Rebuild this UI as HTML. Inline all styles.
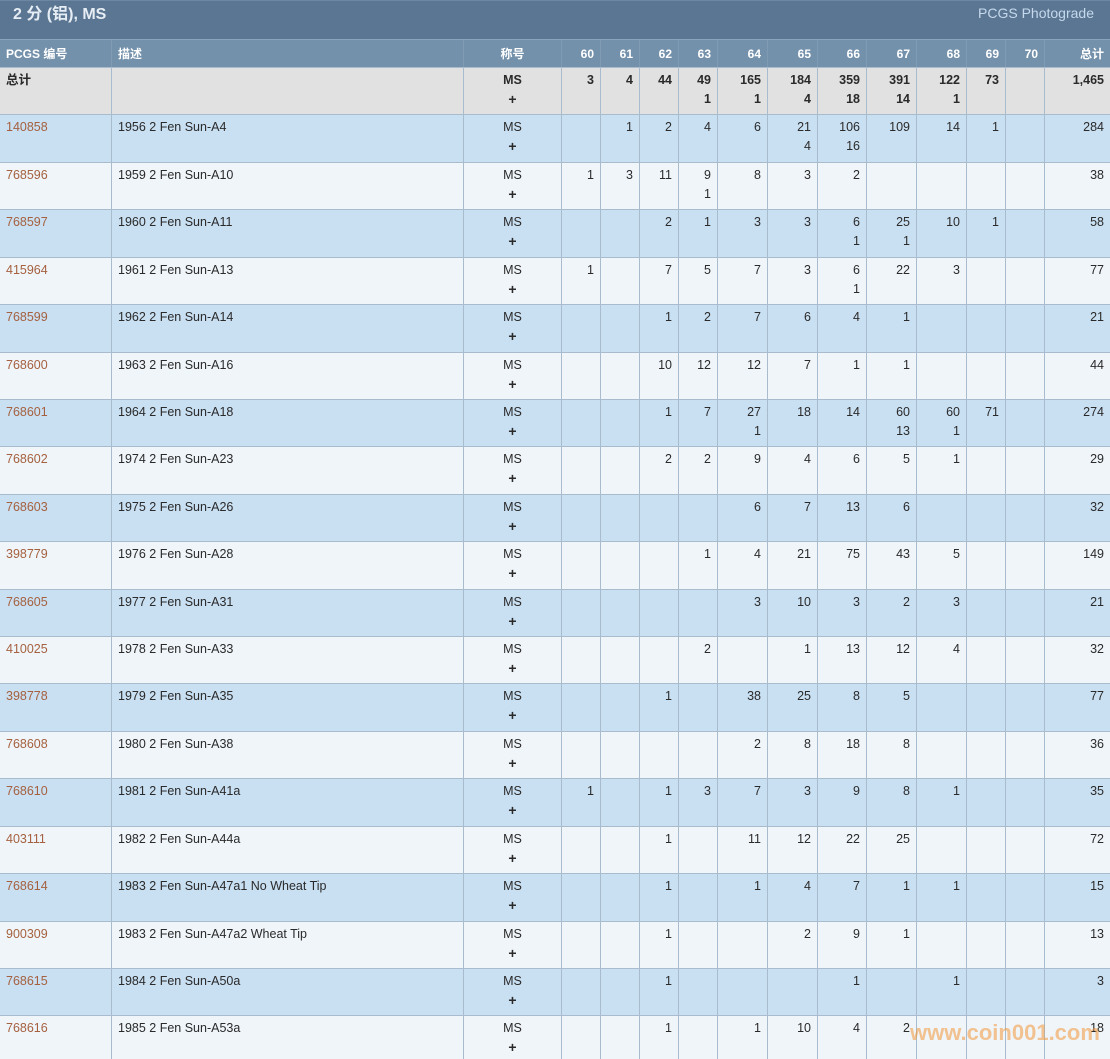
<!DOCTYPE html>
<html><head><meta charset="utf-8">
<style>
*{margin:0;padding:0;box-sizing:border-box}
html,body{width:1110px;height:1059px;overflow:hidden;background:#f0f5fa}
body{position:relative;font-family:"Liberation Sans","Noto Sans CJK SC",sans-serif;font-size:12.5px;color:#2a2a2a}
.title{position:absolute;left:0;top:0;width:1110px;height:39px;background:#5b7693;border-top:1px solid #6d87a2}
.title .t{position:absolute;left:13px;top:3px;font-size:16px;font-weight:bold;color:#e6edf4;line-height:22px}
.title .p{position:absolute;right:16px;top:3px;font-size:14px;color:#c6d9ec;line-height:18px}
.r{position:absolute;left:0;width:1110px;display:flex;border-top:1px solid #a9bccd}
.r.h{background:#7491ab;border-top:1px solid #8aa4bc;color:#fff;font-weight:bold;font-size:12px}
.r.tot{background:#e1e1e2;font-weight:bold}
.r.b{background:#c9dff2}
.r.l{background:#f0f5fa}
.c{height:100%;border-left:1px solid #a9bccd;padding:3px 6px 0 6px;line-height:19px;white-space:nowrap;overflow:hidden}
.h .c{border-left:1px solid #7f9bb4;line-height:26px;padding-top:1px}
.c:first-child{border-left:none}
.n{text-align:right}
.m{text-align:center}
.m b{font-size:14px}
a{color:#a5613f;text-decoration:none}
.w0{width:111px}.w1{width:352px}.w2{width:98px}
.w3,.w4,.w5,.w6,.w12,.w13{width:39px}
.w7,.w8,.w10,.w11{width:50px}.w9{width:49px}.w14{width:66px}
.wm{position:absolute;left:910px;top:1022px;font-size:22px;font-weight:bold;line-height:22px;color:rgba(243,150,55,0.55);font-family:"Liberation Sans",sans-serif}
</style></head><body>
<div class="title"><div class="t">2 分 (铝), MS</div><div class="p">PCGS Photograde</div></div>

<div class="r h" style="top:39px;height:28px">
<div class="c w0">PCGS 编号</div><div class="c w1">描述</div><div class="c w2 m">称号</div>
<div class="c w3 n">60</div><div class="c w4 n">61</div><div class="c w5 n">62</div><div class="c w6 n">63</div><div class="c w7 n">64</div><div class="c w8 n">65</div><div class="c w9 n">66</div><div class="c w10 n">67</div><div class="c w11 n">68</div><div class="c w12 n">69</div><div class="c w13 n">70</div><div class="c w14 n">总计</div>
</div>

<div class="r tot" style="top:67px;height:47px">
<div class="c w0">总计</div><div class="c w1"></div><div class="c w2 m">MS<br><b>+</b></div>
<div class="c w3 n">3</div><div class="c w4 n">4</div><div class="c w5 n">44</div><div class="c w6 n">49<br>1</div><div class="c w7 n">165<br>1</div><div class="c w8 n">184<br>4</div><div class="c w9 n">359<br>18</div><div class="c w10 n">391<br>14</div><div class="c w11 n">122<br>1</div><div class="c w12 n">73</div><div class="c w13 n"></div><div class="c w14 n">1,465</div>
</div>

<div class="r b" style="top:114px;height:48px">
<div class="c w0"><a>140858</a></div><div class="c w1">1956 2 Fen Sun-A4</div><div class="c w2 m">MS<br><b>+</b></div>
<div class="c w3 n"></div><div class="c w4 n">1</div><div class="c w5 n">2</div><div class="c w6 n">4</div><div class="c w7 n">6</div><div class="c w8 n">21<br>4</div><div class="c w9 n">106<br>16</div><div class="c w10 n">109</div><div class="c w11 n">14</div><div class="c w12 n">1</div><div class="c w13 n"></div><div class="c w14 n">284</div>
</div>

<div class="r l" style="top:162px;height:47px">
<div class="c w0"><a>768596</a></div><div class="c w1">1959 2 Fen Sun-A10</div><div class="c w2 m">MS<br><b>+</b></div>
<div class="c w3 n">1</div><div class="c w4 n">3</div><div class="c w5 n">11</div><div class="c w6 n">9<br>1</div><div class="c w7 n">8</div><div class="c w8 n">3</div><div class="c w9 n">2</div><div class="c w10 n"></div><div class="c w11 n"></div><div class="c w12 n"></div><div class="c w13 n"></div><div class="c w14 n">38</div>
</div>

<div class="r b" style="top:209px;height:48px">
<div class="c w0"><a>768597</a></div><div class="c w1">1960 2 Fen Sun-A11</div><div class="c w2 m">MS<br><b>+</b></div>
<div class="c w3 n"></div><div class="c w4 n"></div><div class="c w5 n">2</div><div class="c w6 n">1</div><div class="c w7 n">3</div><div class="c w8 n">3</div><div class="c w9 n">6<br>1</div><div class="c w10 n">25<br>1</div><div class="c w11 n">10</div><div class="c w12 n">1</div><div class="c w13 n"></div><div class="c w14 n">58</div>
</div>

<div class="r l" style="top:257px;height:47px">
<div class="c w0"><a>415964</a></div><div class="c w1">1961 2 Fen Sun-A13</div><div class="c w2 m">MS<br><b>+</b></div>
<div class="c w3 n">1</div><div class="c w4 n"></div><div class="c w5 n">7</div><div class="c w6 n">5</div><div class="c w7 n">7</div><div class="c w8 n">3</div><div class="c w9 n">6<br>1</div><div class="c w10 n">22</div><div class="c w11 n">3</div><div class="c w12 n"></div><div class="c w13 n"></div><div class="c w14 n">77</div>
</div>

<div class="r b" style="top:304px;height:48px">
<div class="c w0"><a>768599</a></div><div class="c w1">1962 2 Fen Sun-A14</div><div class="c w2 m">MS<br><b>+</b></div>
<div class="c w3 n"></div><div class="c w4 n"></div><div class="c w5 n">1</div><div class="c w6 n">2</div><div class="c w7 n">7</div><div class="c w8 n">6</div><div class="c w9 n">4</div><div class="c w10 n">1</div><div class="c w11 n"></div><div class="c w12 n"></div><div class="c w13 n"></div><div class="c w14 n">21</div>
</div>

<div class="r l" style="top:352px;height:47px">
<div class="c w0"><a>768600</a></div><div class="c w1">1963 2 Fen Sun-A16</div><div class="c w2 m">MS<br><b>+</b></div>
<div class="c w3 n"></div><div class="c w4 n"></div><div class="c w5 n">10</div><div class="c w6 n">12</div><div class="c w7 n">12</div><div class="c w8 n">7</div><div class="c w9 n">1</div><div class="c w10 n">1</div><div class="c w11 n"></div><div class="c w12 n"></div><div class="c w13 n"></div><div class="c w14 n">44</div>
</div>

<div class="r b" style="top:399px;height:47px">
<div class="c w0"><a>768601</a></div><div class="c w1">1964 2 Fen Sun-A18</div><div class="c w2 m">MS<br><b>+</b></div>
<div class="c w3 n"></div><div class="c w4 n"></div><div class="c w5 n">1</div><div class="c w6 n">7</div><div class="c w7 n">27<br>1</div><div class="c w8 n">18</div><div class="c w9 n">14</div><div class="c w10 n">60<br>13</div><div class="c w11 n">60<br>1</div><div class="c w12 n">71</div><div class="c w13 n"></div><div class="c w14 n">274</div>
</div>

<div class="r l" style="top:446px;height:48px">
<div class="c w0"><a>768602</a></div><div class="c w1">1974 2 Fen Sun-A23</div><div class="c w2 m">MS<br><b>+</b></div>
<div class="c w3 n"></div><div class="c w4 n"></div><div class="c w5 n">2</div><div class="c w6 n">2</div><div class="c w7 n">9</div><div class="c w8 n">4</div><div class="c w9 n">6</div><div class="c w10 n">5</div><div class="c w11 n">1</div><div class="c w12 n"></div><div class="c w13 n"></div><div class="c w14 n">29</div>
</div>

<div class="r b" style="top:494px;height:47px">
<div class="c w0"><a>768603</a></div><div class="c w1">1975 2 Fen Sun-A26</div><div class="c w2 m">MS<br><b>+</b></div>
<div class="c w3 n"></div><div class="c w4 n"></div><div class="c w5 n"></div><div class="c w6 n"></div><div class="c w7 n">6</div><div class="c w8 n">7</div><div class="c w9 n">13</div><div class="c w10 n">6</div><div class="c w11 n"></div><div class="c w12 n"></div><div class="c w13 n"></div><div class="c w14 n">32</div>
</div>

<div class="r l" style="top:541px;height:48px">
<div class="c w0"><a>398779</a></div><div class="c w1">1976 2 Fen Sun-A28</div><div class="c w2 m">MS<br><b>+</b></div>
<div class="c w3 n"></div><div class="c w4 n"></div><div class="c w5 n"></div><div class="c w6 n">1</div><div class="c w7 n">4</div><div class="c w8 n">21</div><div class="c w9 n">75</div><div class="c w10 n">43</div><div class="c w11 n">5</div><div class="c w12 n"></div><div class="c w13 n"></div><div class="c w14 n">149</div>
</div>

<div class="r b" style="top:589px;height:47px">
<div class="c w0"><a>768605</a></div><div class="c w1">1977 2 Fen Sun-A31</div><div class="c w2 m">MS<br><b>+</b></div>
<div class="c w3 n"></div><div class="c w4 n"></div><div class="c w5 n"></div><div class="c w6 n"></div><div class="c w7 n">3</div><div class="c w8 n">10</div><div class="c w9 n">3</div><div class="c w10 n">2</div><div class="c w11 n">3</div><div class="c w12 n"></div><div class="c w13 n"></div><div class="c w14 n">21</div>
</div>

<div class="r l" style="top:636px;height:47px">
<div class="c w0"><a>410025</a></div><div class="c w1">1978 2 Fen Sun-A33</div><div class="c w2 m">MS<br><b>+</b></div>
<div class="c w3 n"></div><div class="c w4 n"></div><div class="c w5 n"></div><div class="c w6 n">2</div><div class="c w7 n"></div><div class="c w8 n">1</div><div class="c w9 n">13</div><div class="c w10 n">12</div><div class="c w11 n">4</div><div class="c w12 n"></div><div class="c w13 n"></div><div class="c w14 n">32</div>
</div>

<div class="r b" style="top:683px;height:48px">
<div class="c w0"><a>398778</a></div><div class="c w1">1979 2 Fen Sun-A35</div><div class="c w2 m">MS<br><b>+</b></div>
<div class="c w3 n"></div><div class="c w4 n"></div><div class="c w5 n">1</div><div class="c w6 n"></div><div class="c w7 n">38</div><div class="c w8 n">25</div><div class="c w9 n">8</div><div class="c w10 n">5</div><div class="c w11 n"></div><div class="c w12 n"></div><div class="c w13 n"></div><div class="c w14 n">77</div>
</div>

<div class="r l" style="top:731px;height:47px">
<div class="c w0"><a>768608</a></div><div class="c w1">1980 2 Fen Sun-A38</div><div class="c w2 m">MS<br><b>+</b></div>
<div class="c w3 n"></div><div class="c w4 n"></div><div class="c w5 n"></div><div class="c w6 n"></div><div class="c w7 n">2</div><div class="c w8 n">8</div><div class="c w9 n">18</div><div class="c w10 n">8</div><div class="c w11 n"></div><div class="c w12 n"></div><div class="c w13 n"></div><div class="c w14 n">36</div>
</div>

<div class="r b" style="top:778px;height:48px">
<div class="c w0"><a>768610</a></div><div class="c w1">1981 2 Fen Sun-A41a</div><div class="c w2 m">MS<br><b>+</b></div>
<div class="c w3 n">1</div><div class="c w4 n"></div><div class="c w5 n">1</div><div class="c w6 n">3</div><div class="c w7 n">7</div><div class="c w8 n">3</div><div class="c w9 n">9</div><div class="c w10 n">8</div><div class="c w11 n">1</div><div class="c w12 n"></div><div class="c w13 n"></div><div class="c w14 n">35</div>
</div>

<div class="r l" style="top:826px;height:47px">
<div class="c w0"><a>403111</a></div><div class="c w1">1982 2 Fen Sun-A44a</div><div class="c w2 m">MS<br><b>+</b></div>
<div class="c w3 n"></div><div class="c w4 n"></div><div class="c w5 n">1</div><div class="c w6 n"></div><div class="c w7 n">11</div><div class="c w8 n">12</div><div class="c w9 n">22</div><div class="c w10 n">25</div><div class="c w11 n"></div><div class="c w12 n"></div><div class="c w13 n"></div><div class="c w14 n">72</div>
</div>

<div class="r b" style="top:873px;height:48px">
<div class="c w0"><a>768614</a></div><div class="c w1">1983 2 Fen Sun-A47a1 No Wheat Tip</div><div class="c w2 m">MS<br><b>+</b></div>
<div class="c w3 n"></div><div class="c w4 n"></div><div class="c w5 n">1</div><div class="c w6 n"></div><div class="c w7 n">1</div><div class="c w8 n">4</div><div class="c w9 n">7</div><div class="c w10 n">1</div><div class="c w11 n">1</div><div class="c w12 n"></div><div class="c w13 n"></div><div class="c w14 n">15</div>
</div>

<div class="r l" style="top:921px;height:47px">
<div class="c w0"><a>900309</a></div><div class="c w1">1983 2 Fen Sun-A47a2 Wheat Tip</div><div class="c w2 m">MS<br><b>+</b></div>
<div class="c w3 n"></div><div class="c w4 n"></div><div class="c w5 n">1</div><div class="c w6 n"></div><div class="c w7 n"></div><div class="c w8 n">2</div><div class="c w9 n">9</div><div class="c w10 n">1</div><div class="c w11 n"></div><div class="c w12 n"></div><div class="c w13 n"></div><div class="c w14 n">13</div>
</div>

<div class="r b" style="top:968px;height:47px">
<div class="c w0"><a>768615</a></div><div class="c w1">1984 2 Fen Sun-A50a</div><div class="c w2 m">MS<br><b>+</b></div>
<div class="c w3 n"></div><div class="c w4 n"></div><div class="c w5 n">1</div><div class="c w6 n"></div><div class="c w7 n"></div><div class="c w8 n"></div><div class="c w9 n">1</div><div class="c w10 n"></div><div class="c w11 n">1</div><div class="c w12 n"></div><div class="c w13 n"></div><div class="c w14 n">3</div>
</div>

<div class="r l" style="top:1015px;height:47px">
<div class="c w0"><a>768616</a></div><div class="c w1">1985 2 Fen Sun-A53a</div><div class="c w2 m">MS<br><b>+</b></div>
<div class="c w3 n"></div><div class="c w4 n"></div><div class="c w5 n">1</div><div class="c w6 n"></div><div class="c w7 n">1</div><div class="c w8 n">10</div><div class="c w9 n">4</div><div class="c w10 n">2</div><div class="c w11 n"></div><div class="c w12 n"></div><div class="c w13 n"></div><div class="c w14 n">18</div>
</div>

<div class="wm">www.coin001.com</div>
</body></html>
